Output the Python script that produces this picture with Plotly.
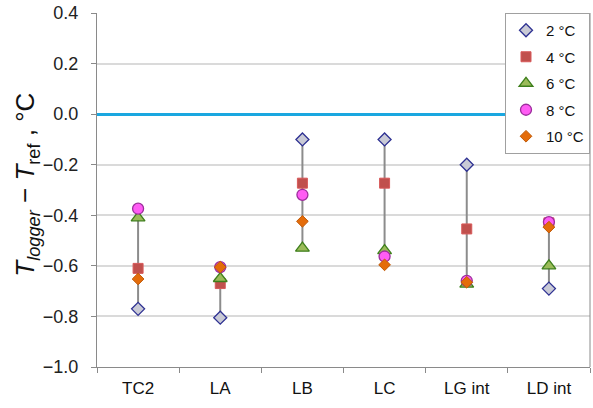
import plotly.graph_objects as go

# Logger positions and temperature offsets (logger minus reference), °C
sites = ["TC2", "LA", "LB", "LC", "LG int", "LD int"]
dev_2c = [-0.77, -0.805, -0.10, -0.10, -0.20, -0.69]
dev_4c = [-0.61, -0.67, -0.273, -0.273, -0.454, -0.43]
dev_6c = [-0.41, -0.65, -0.53, -0.54, -0.672, -0.60]
dev_8c = [-0.374, -0.605, -0.319, -0.563, -0.659, -0.427]
dev_10c = [-0.652, -0.605, -0.424, -0.596, -0.665, -0.447]
series_names = ["2 °C", "4 °C", "6 °C", "8 °C", "10 °C"]
y_title = "<i>T</i><sub><i>logger</i></sub> \u2212 <i>T</i><sub>ref</sub> , °C"

all_series = [dev_2c, dev_4c, dev_6c, dev_8c, dev_10c]

styles = [
    dict(symbol="diamond", size=10, color="#C9CAD6", line=dict(color="#2E3192", width=1.3)),
    dict(symbol="square", size=10, color="#C0504D", line=dict(color="#D8595A", width=1)),
    dict(symbol="triangle-up", size=12, color="#9BBB59", line=dict(color="#3E7F1C", width=1.3)),
    dict(symbol="circle", size=11, color="#FF5CF4", line=dict(color="#9C2E9C", width=1.3)),
    dict(symbol="diamond", size=9, color="#E46C0A", line=dict(color="#C05A08", width=1)),
]

fig = go.Figure()

# High-low range line for each site
xs, ys = [], []
for i, s in enumerate(sites):
    vals = [ser[i] for ser in all_series]
    xs += [s, s, None]
    ys += [min(vals), max(vals), None]
fig.add_trace(go.Scatter(x=xs, y=ys, mode="lines", line=dict(color="#8C8C8C", width=2),
                         showlegend=False, hoverinfo="skip"))

for k, (name, ser, st) in enumerate(zip(series_names, all_series, styles)):
    fig.add_trace(go.Scatter(x=sites, y=ser, mode="markers", name=name,
                             legendgroup=f"g{k}", marker=st))

font_family = "Liberation Sans, Arial, sans-serif"

fig.update_layout(
    width=593, height=408,
    margin=dict(l=97, r=3, t=10, b=41),
    plot_bgcolor="white", paper_bgcolor="white",
    font=dict(family=font_family, size=17, color="#222222"),
    legend=dict(x=1, xanchor="right", y=1, yanchor="top",
                bordercolor="#A0A0A0", borderwidth=1, bgcolor="white",
                font=dict(size=15, color="#111111"), tracegroupgap=4,
                itemwidth=30),
    showlegend=True,
)

fig.update_xaxes(
    type="category", categoryorder="array", categoryarray=sites,
    showline=True, linecolor="#8A8A8A", linewidth=1, mirror=False,
    ticks="outside", tickson="boundaries", ticklen=5, tickcolor="#8A8A8A",
    showgrid=False, tickfont=dict(size=17, color="#111111"),
    ticklabelposition="outside", ticklabelstandoff=6,
    range=[-0.5, 5.5],
)

fig.update_yaxes(
    range=[-1.0, 0.4], dtick=0.2, tick0=0, tickformat=".1f",
    ticksuffix="\u2002",
    showline=True, linecolor="#8A8A8A", linewidth=1,
    ticks="outside", ticklen=5, tickcolor="#8A8A8A",
    showgrid=True, gridcolor="#DADADA", gridwidth=1.5,
    zeroline=True, zerolinecolor="#1AA7E0", zerolinewidth=3,
    tickfont=dict(size=18, color="#222222"),
)

# Rotated axis title beside the tick labels
fig.add_annotation(
    text=y_title, textangle=-90, showarrow=False,
    xref="paper", yref="paper", x=-0.142, y=0.515,
    xanchor="center", yanchor="middle",
    font=dict(size=26, color="#111111"),
)

# Right border of the plot area
fig.add_shape(type="line", xref="paper", yref="paper", x0=1, x1=1, y0=0, y1=1,
              line=dict(color="#8A8A8A", width=1))

fig.write_html("out.html")
